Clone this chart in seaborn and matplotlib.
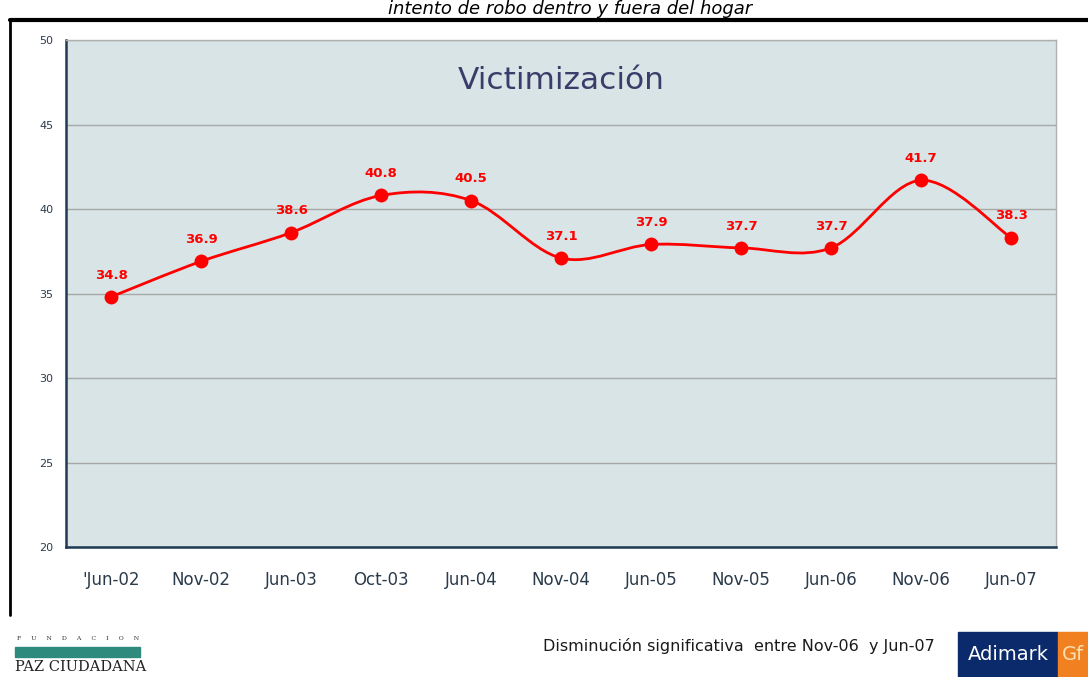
import numpy as np
import pandas as pd
import seaborn as sns
import matplotlib.pyplot as plt
from matplotlib.path import Path
from matplotlib.patches import PathPatch, Rectangle
from matplotlib.lines import Line2D

# datos
periodos = ["'Jun-02", "Nov-02", "Jun-03", "Oct-03", "Jun-04", "Nov-04",
            "Jun-05", "Nov-05", "Jun-06", "Nov-06", "Jun-07"]
victimizacion = [34.8, 36.9, 38.6, 40.8, 40.5, 37.1, 37.9, 37.7, 37.7, 41.7, 38.3]

df = pd.DataFrame({"pos": range(len(periodos)), "valor": victimizacion, "periodo": periodos})

sns.set_style("white")
plt.rcParams['font.family'] = ['DejaVu Sans']

fig = plt.figure(figsize=(10.88, 6.77), dpi=100)
ax = fig.add_axes([66/1088, 1-547/677, 990/1088, 507/677])
ax.set_facecolor("#d8e4e6")

rojo = "#ff0000"

# curva suavizada (bezier entre los puntos)
x = df["pos"].to_numpy(dtype=float)
y = df["valor"].to_numpy(dtype=float)
verts = [(x[0], y[0])]
codes = [Path.MOVETO]
n = len(x)
for i in range(n-1):
    p0 = np.array([x[max(i-1, 0)], y[max(i-1, 0)]])
    p1 = np.array([x[i], y[i]])
    p2 = np.array([x[i+1], y[i+1]])
    p3 = np.array([x[min(i+2, n-1)], y[min(i+2, n-1)]])
    c1 = p1 + (p2 - p0) / 6
    c2 = p2 - (p3 - p1) / 6
    verts += [tuple(c1), tuple(c2), tuple(p2)]
    codes += [Path.CURVE4]*3
ax.add_patch(PathPatch(Path(verts, codes), facecolor="none", edgecolor=rojo, lw=2, zorder=3))

sns.scatterplot(data=df, x="pos", y="valor", color=rojo, s=100, edgecolor=rojo,
                linewidth=0, zorder=4, ax=ax, legend=False)

for xi, yi in zip(x, y):
    ax.annotate(f"{yi:.1f}", (xi, yi), xytext=(0, 11), textcoords="offset points",
                ha="center", va="bottom", color=rojo, fontsize=9.5, fontweight="bold")

ax.set_xlim(-0.5, n-0.5)
ax.set_ylim(20, 50)
ax.set_yticks([20, 25, 30, 35, 40, 45, 50])
ax.yaxis.grid(True, color="#a8a8a8", lw=1)
ax.set_axisbelow(True)
ax.set_xticks(range(n))
ax.set_xticklabels(periodos)
ax.set_xticks(np.arange(-0.5, n, 1), minor=True)
ax.tick_params(axis="x", which="major", length=0, pad=17, labelsize=12, labelcolor="#2b3b4b")
ax.tick_params(axis="x", which="minor", length=6, width=1.5, color="#1f3a55", direction="out")
ax.tick_params(axis="y", length=6, width=1.5, color="#1f3a55", direction="out",
               labelsize=8, labelcolor="#2b3b4b", pad=3)
ax.set_xlabel("")
ax.set_ylabel("")
for s in ["left", "bottom"]:
    ax.spines[s].set_color("#1f3a55")
    ax.spines[s].set_linewidth(1.8)
for s in ["top", "right"]:
    ax.spines[s].set_color("#b0b0b0")
    ax.spines[s].set_linewidth(1)

ax.text(0.5, 0.92, "Victimización", transform=ax.transAxes, ha="center", va="center",
        fontsize=22.5, color="#3a3d6a")

# marco exterior
fig.add_artist(Line2D([10/1088, 1], [1-20/677, 1-20/677], color="black", lw=3))
fig.add_artist(Line2D([10/1088, 10/1088], [1-20/677, 1-615/677], color="black", lw=2))

fig.text(570/1088, 1-9/677, "intento de robo dentro y fuera del hogar", ha="center", va="center",
         fontsize=13, style="italic", color="black")

fig.text(543/1088, 1-646/677, "Disminución significativa  entre Nov-06  y Jun-07",
         ha="left", va="center", fontsize=11.5, color="#1a1a1a")

# logos
fig.text(78/1088, 1-638/677, "F     U     N     D     A     C     I     O     N", ha="center",
         va="center", fontsize=4.5, color="#333333", family="serif")
fig.add_artist(Rectangle((15/1088, 1-657/677), 125/1088, 10/677, color="#2d8a7c",
                         transform=fig.transFigure))
fig.text(15/1088, 1-667/677, "PAZ CIUDADANA", ha="left", va="center", fontsize=10.5,
         color="#222222", family="serif")
fig.add_artist(Rectangle((958/1088, 0), 100/1088, 45/677, color="#0b2a6b",
                         transform=fig.transFigure))
fig.add_artist(Rectangle((1058/1088, 0), 30/1088, 45/677, color="#f08020",
                         transform=fig.transFigure))
fig.text(1008/1088, 1-655/677, "Adimark", ha="center", va="center", fontsize=14,
         color="white")
fig.text(1062/1088, 1-655/677, "Gf", ha="left", va="center", fontsize=14,
         color="#fde0b0")

fig.savefig("out.png", dpi=100)
